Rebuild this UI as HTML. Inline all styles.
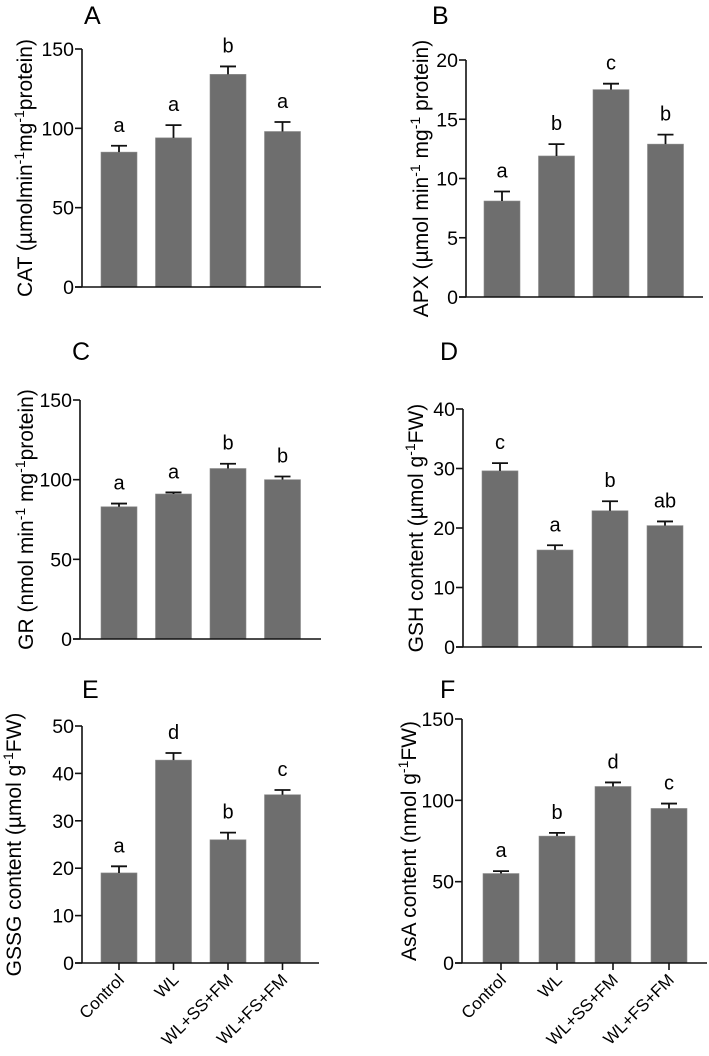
<!DOCTYPE html>
<html><head><meta charset="utf-8"><style>
html,body{margin:0;padding:0;background:#fff;}
svg{display:block;font-family:"Liberation Sans",Arial,sans-serif;}
</style></head><body>
<svg id="fig" width="709" height="1056" viewBox="0 0 709 1056"></svg>
<script>
const categories = ["Control","WL","WL+SS+FM","WL+FS+FM"];
const catValues = [85, 94, 134, 98];
const catErr = [4, 8, 5, 6];
const catLetters = ["a","a","b","a"];
const apxValues = [8.1, 11.9, 17.5, 12.9];
const apxErr = [0.8, 1.0, 0.5, 0.8];
const apxLetters = ["a","b","c","b"];
const grValues = [83, 91, 107, 100];
const grErr = [2, 1, 3, 2];
const grLetters = ["a","a","b","b"];
const gshValues = [29.6, 16.3, 22.9, 20.4];
const gshErr = [1.3, 0.8, 1.6, 0.7];
const gshLetters = ["c","a","b","ab"];
const gssgValues = [19, 42.8, 26, 35.5];
const gssgErr = [1.4, 1.5, 1.5, 1.0];
const gssgLetters = ["a","d","b","c"];
const asaValues = [55, 78, 108.5, 95];
const asaErr = [1.5, 2, 2.5, 3];
const asaLetters = ["a","b","d","c"];
const catTicks = [0, 50, 100, 150];
const apxTicks = [0, 5, 10, 15, 20];
const grTicks = [0, 50, 100, 150];
const gshTicks = [0, 10, 20, 30, 40];
const gssgTicks = [0, 10, 20, 30, 40, 50];
const asaTicks = [0, 50, 100, 150];

const NS = "http://www.w3.org/2000/svg";
const svg = document.getElementById("fig");
function mk(tag, attrs, parent) {
  const e = document.createElementNS(NS, tag);
  for (const k in attrs) e.setAttribute(k, attrs[k]);
  (parent || svg).appendChild(e);
  return e;
}

function panel(p) {
  const g = mk("g", {});
  
  
  const ymax = p.ticks[p.ticks.length - 1];
  const y = v => p.y0 - (v / ymax) * (p.y0 - p.yTop);
  const step = p.step;
  const cx = i => p.bar0 + 18 + i * step;
  const pl = mk("text", {x: p.lx, y: p.ly, "font-size": 25, fill: "#000"}, g);
  pl.textContent = p.letter;
  
  
  p.values.forEach((v, i) => {
    const b = mk("rect", {x: cx(i) - 18, y: y(v), width: 36, height: p.y0 - y(v), fill: "#6e6e6e", stroke: "#8a8a8a", "stroke-width": 0.6}, g);
    
    
    const et = y(v + p.err[i]);
    const eb = mk("path", {d: `M${cx(i)},${y(v)}V${et}M${cx(i)-8},${et}H${cx(i)+8}`, stroke: "#111", "stroke-width": 1.8, fill: "none"}, g);
    
    
    const lt = mk("text", {x: cx(i), y: et - 14, "text-anchor": "middle", "font-size": 20, fill: "#000"}, g);
    lt.textContent = p.letters[i];
    
    
  });
  const ya = mk("path", {d: `M${p.ax},${p.yTop}V${p.y0}`, stroke: "#111", "stroke-width": 1.6, fill: "none"}, g);
  
  
  const xa = mk("path", {d: `M${p.ax - 7},${p.y0}H${p.xEnd}`, stroke: "#111", "stroke-width": 1.6, fill: "none"}, g);
  
  
  p.ticks.forEach(t => {
    mk("path", {d: `M${p.ax - 7},${y(t)}H${p.ax}`, stroke: "#111", "stroke-width": 1.6}, g);
    const tl = mk("text", {x: p.ax - 8, y: y(t) + 7, "text-anchor": "end", "font-size": 19.5, fill: "#000"}, g);
    tl.textContent = t;
    
    
  });
  if (p.xlabels) {
    categories.forEach((c, i) => {
      mk("path", {d: `M${cx(i)},${p.y0}V${p.y0 + 7}`, stroke: "#111", "stroke-width": 1.6}, g);
      const xl = mk("text", {x: cx(i) + 6, y: p.y0 + 18, "text-anchor": "end", "font-size": 17, fill: "#000",
        transform: `rotate(-45 ${cx(i) + 6} ${p.y0 + 18})`}, g);
      xl.textContent = c;
      
      
    });
  }
  const ty = (p.yTop + p.y0) / 2;
  const tt = mk("text", {x: p.tx, y: ty, "text-anchor": "middle", "font-size": 21, fill: "#000",
    transform: `rotate(-90 ${p.tx} ${ty})`}, g);
  
  
  p.title.forEach(part => {
    const s = mk("tspan", {}, tt);
    if (part.sup) { s.setAttribute("baseline-shift", "super"); s.setAttribute("font-size", "14"); }
    s.textContent = part.t;
  });
}

panel({name: "panel-a-cat", letter: "A", lx: 84, ly: 24, ax: 82, yTop: 49, y0: 287, xEnd: 321, bar0: 101, step: 54.5,
  values: catValues, err: catErr, letters: catLetters, ticks: catTicks, tx: 32,
  title: [{t: "CAT (µmolmin"}, {t: "-1", sup: 1}, {t: "mg"}, {t: "-1", sup: 1}, {t: "protein)"}]});
panel({name: "panel-b-apx", letter: "B", lx: 432, ly: 24, ax: 466, yTop: 60, y0: 297, xEnd: 703, bar0: 484, step: 54.5,
  values: apxValues, err: apxErr, letters: apxLetters, ticks: apxTicks, tx: 428,
  title: [{t: "APX  (µmol min"}, {t: "-1", sup: 1}, {t: " mg"}, {t: "-1", sup: 1}, {t: " protein)"}]});
panel({name: "panel-c-gr", letter: "C", lx: 72, ly: 360, ax: 80, yTop: 400, y0: 639, xEnd: 321, bar0: 101, step: 54.5,
  values: grValues, err: grErr, letters: grLetters, ticks: grTicks, tx: 33,
  title: [{t: "GR (nmol min"}, {t: "-1", sup: 1}, {t: " mg"}, {t: "-1", sup: 1}, {t: "protein)"}]});
panel({name: "panel-d-gsh", letter: "D", lx: 440, ly: 360, ax: 463, yTop: 409, y0: 647, xEnd: 702, bar0: 482, step: 55,
  values: gshValues, err: gshErr, letters: gshLetters, ticks: gshTicks, tx: 423,
  title: [{t: "GSH content (µmol g"}, {t: "-1", sup: 1}, {t: "FW)"}]});
panel({name: "panel-e-gssg", letter: "E", lx: 82, ly: 698, ax: 82, yTop: 726, y0: 963, xEnd: 319, bar0: 101, step: 54.5,
  values: gssgValues, err: gssgErr, letters: gssgLetters, ticks: gssgTicks, tx: 21, xlabels: true,
  title: [{t: "GSSG content (µmol g"}, {t: "-1", sup: 1}, {t: "FW)"}]});
panel({name: "panel-f-asa", letter: "F", lx: 440, ly: 698, ax: 462, yTop: 719, y0: 963, xEnd: 707, bar0: 483, step: 56,
  values: asaValues, err: asaErr, letters: asaLetters, ticks: asaTicks, tx: 416, xlabels: true,
  title: [{t: "AsA content (nmol g"}, {t: "-1", sup: 1}, {t: "FW)"}]});
</script>
</body></html>
